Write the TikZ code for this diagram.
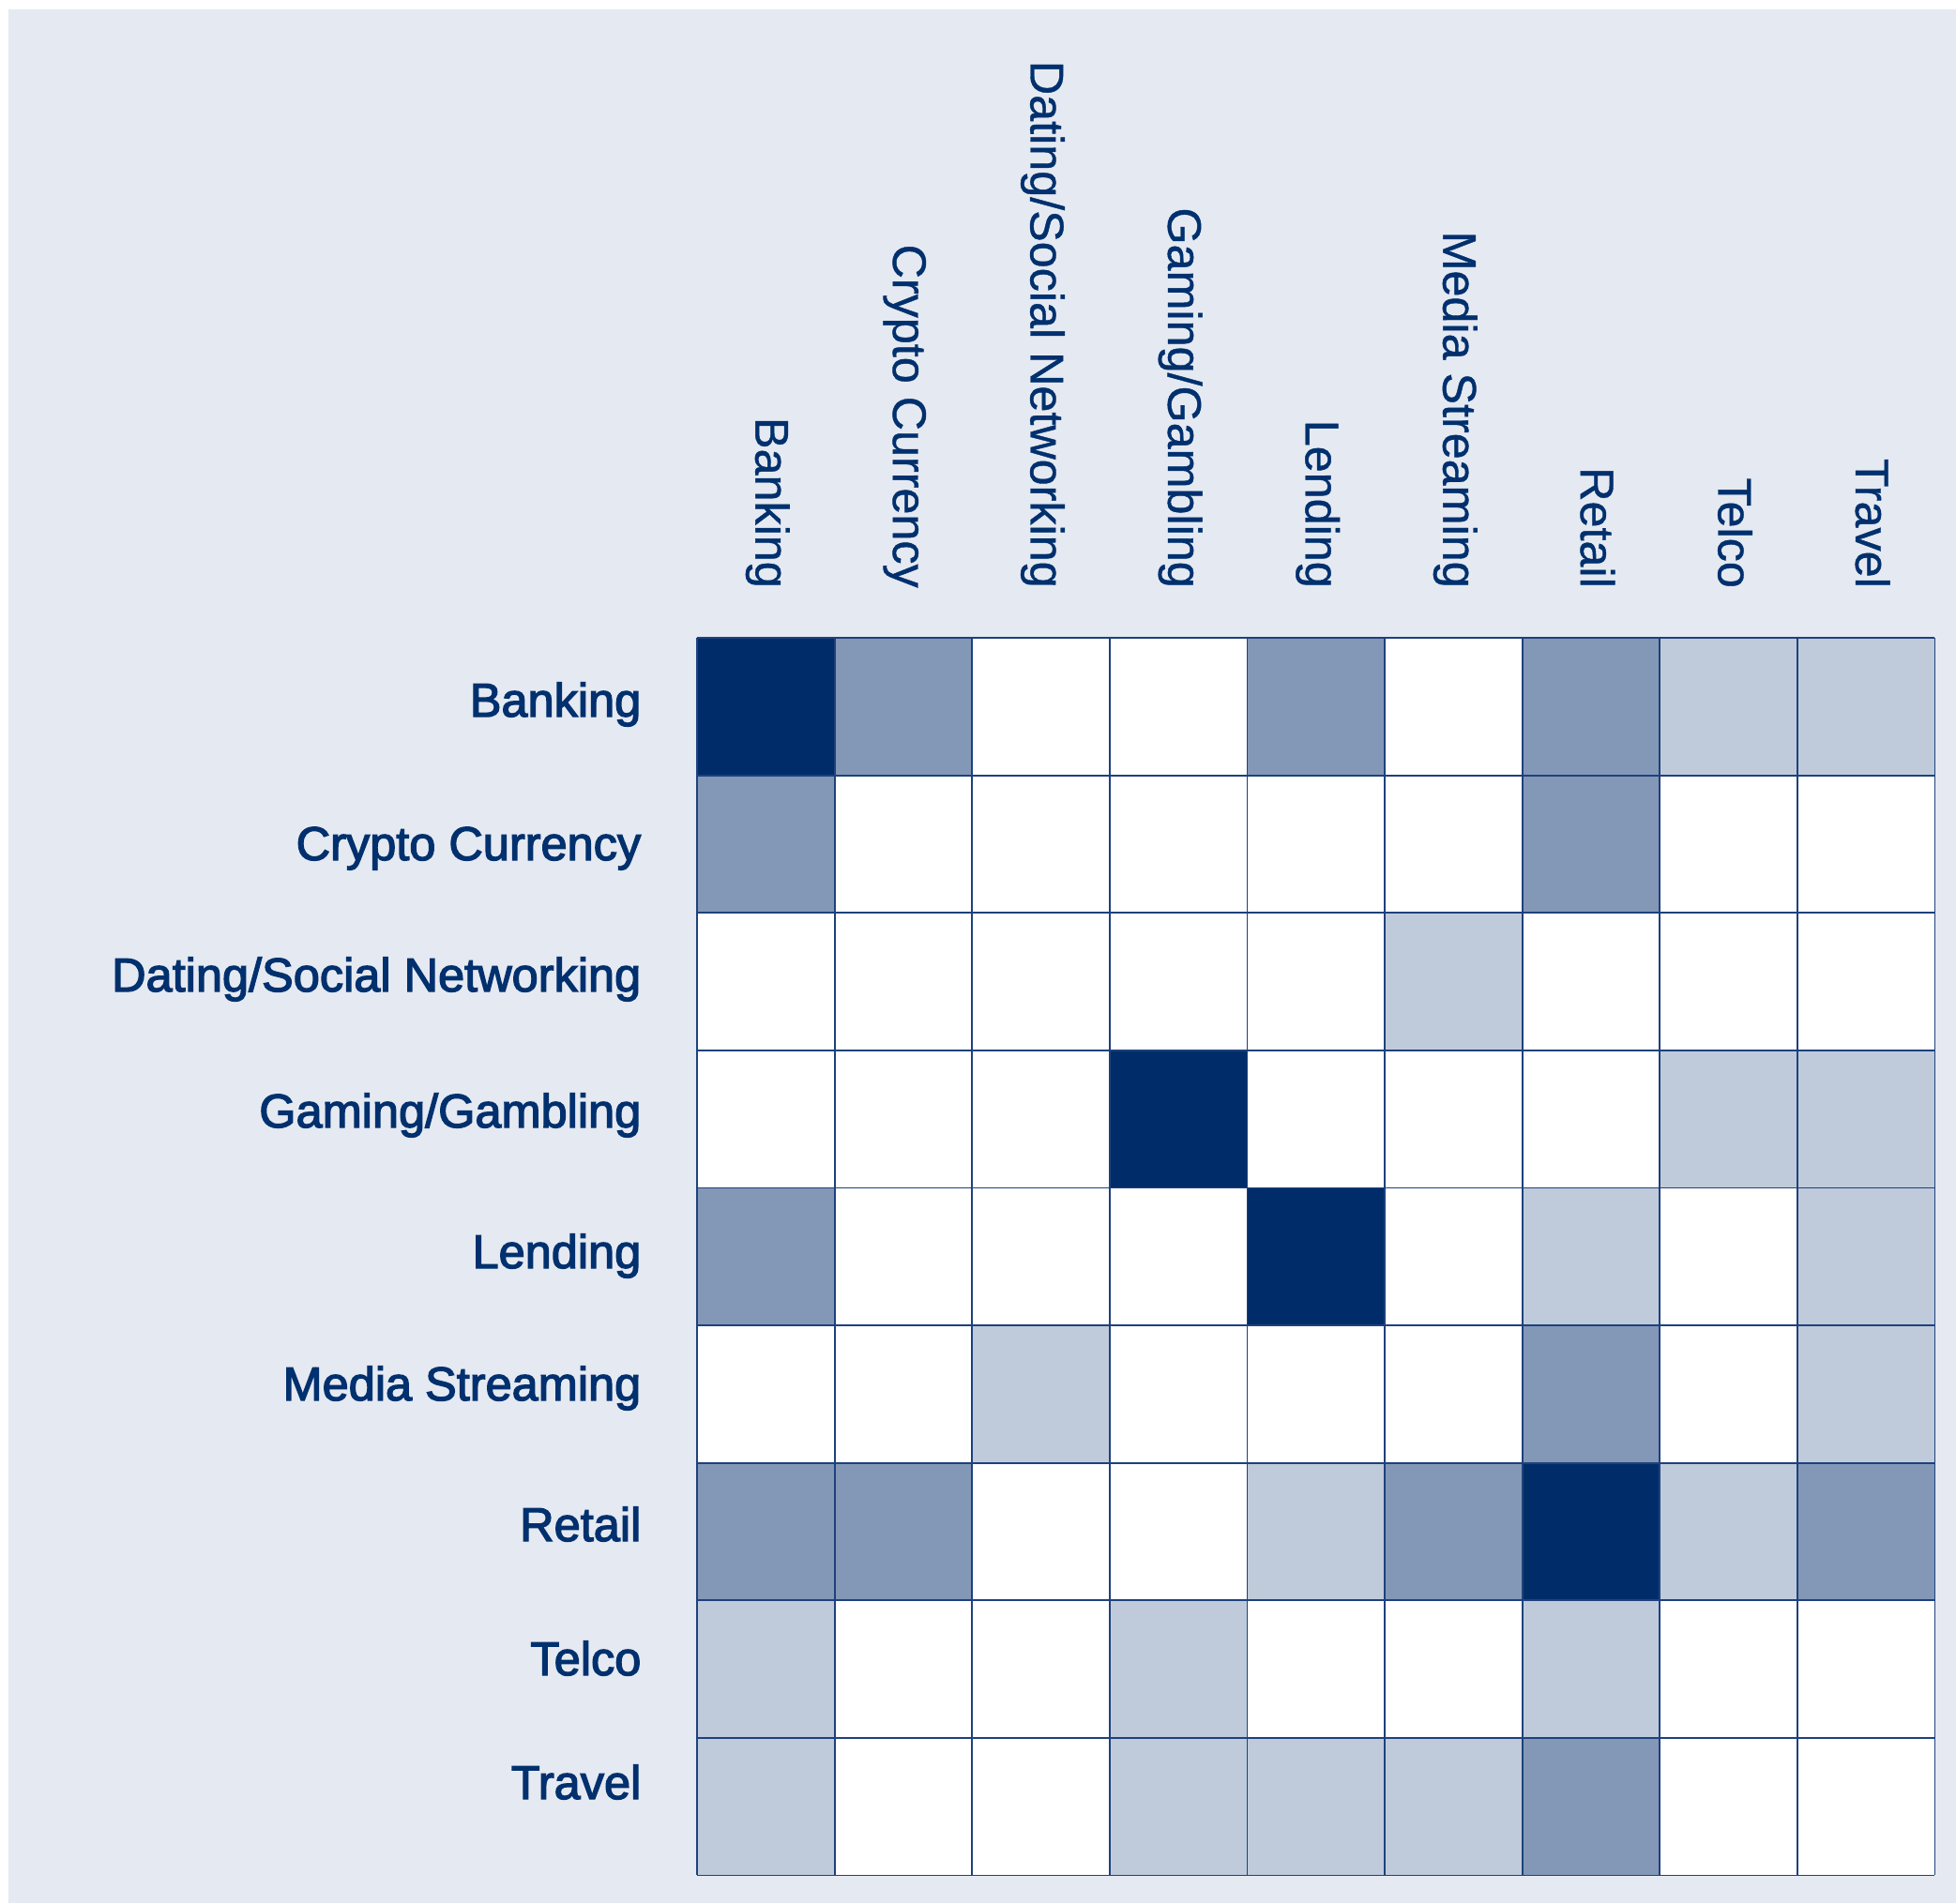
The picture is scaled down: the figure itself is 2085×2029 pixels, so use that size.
\documentclass[tikz,border=0pt]{standalone}
\usepackage{fontspec}
\setmainfont{Liberation Sans}
\newfontfamily\rowfont{Liberation Sans}[FakeBold=2.6]
\newfontfamily\colfont{Liberation Sans}[FakeBold=0.8]
\definecolor{bgc}{RGB}{229,233,241}
\definecolor{cD}{RGB}{0,45,105}
\definecolor{cM}{RGB}{131,152,183}
\definecolor{cL}{RGB}{191,203,219}
\definecolor{cW}{RGB}{255,255,255}
\definecolor{linec}{RGB}{30,65,125}
\definecolor{textc}{RGB}{0,48,110}
\begin{document}
\begin{tikzpicture}[x=1pt,y=-1pt,
  rowlab/.style={anchor=base east,inner sep=0pt,text=textc,font=\rowfont\fontsize{50.5}{60}\selectfont},
  collab/.style={anchor=base east,inner sep=0pt,rotate=-90,text=textc,font=\colfont\fontsize{50.3}{60}\selectfont},
  gridline/.style={draw=linec,line width=1.8pt}]
\useasboundingbox (0,0) rectangle (2085,2029);
\fill[white] (0,0) rectangle (2085,2029);
\fill[bgc] (9,10) rectangle (2085,2029);
\def\cw{146.6}
\def\gx{743}
\def\gy{680}
% cells
\foreach \row [count=\r from 0] in {
  {D,M,W,W,M,W,M,L,L},
  {M,W,W,W,W,W,M,W,W},
  {W,W,W,W,W,L,W,W,W},
  {W,W,W,D,W,W,W,L,L},
  {M,W,W,W,D,W,L,W,L},
  {W,W,L,W,W,W,M,W,L},
  {M,M,W,W,L,M,D,L,M},
  {L,W,W,L,W,W,L,W,W},
  {L,W,W,L,L,L,M,W,W}} {
  \foreach \v [count=\c from 0] in \row {
    \fill[c\v] ({\gx+\c*\cw},{\gy+\r*\cw}) rectangle ++(\cw,\cw);
  }
}
% grid lines
\foreach \i in {0,...,9} {
  \draw[gridline] ({\gx+\i*\cw},\gy) -- ++(0,{9*\cw});
  \draw[gridline] (\gx,{\gy+\i*\cw}) -- ++({9*\cw},0);
}
% row labels
\node[rowlab] (r1) at (683.5,764) {Banking};
\node[rowlab] (r2) at (683.5,917) {Crypto Currency};
\node[rowlab] (r3) at (683.5,1057) {Dating/Social Networking};
\node[rowlab] (r4) at (683.5,1202) {Gaming/Gambling};
\node[rowlab] (r5) at (683.5,1352) {Lending};
\node[rowlab] (r6) at (683.5,1493) {Media Streaming};
\node[rowlab] (r7) at (683.5,1643) {Retail};
\node[rowlab] (r8) at (683.5,1786) {Telco};
\node[rowlab] (r9) at (683.5,1918) {Travel};
% column labels
\node[collab] (c1) at (805.3,627) {Banking};
\node[collab] (c2) at (951.9,627) {Crypto Currency};
\node[collab] (c3) at (1098.5,627) {Dating/Social Networking};
\node[collab] (c4) at (1245.1,627) {Gaming/Gambling};
\node[collab] (c5) at (1391.7,627) {Lending};
\node[collab] (c6) at (1538.3,627) {Media Streaming};
\node[collab] (c7) at (1684.9,627) {Retail};
\node[collab] (c8) at (1831.5,627) {Telco};
\node[collab] (c9) at (1978.1,627) {Travel};
\end{tikzpicture}
\end{document}
